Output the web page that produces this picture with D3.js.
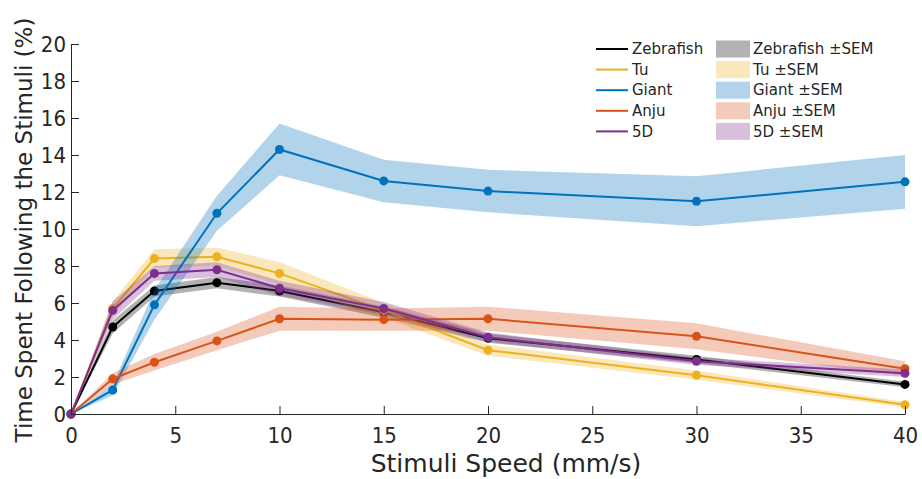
<!DOCTYPE html>
<html>
<head>
<meta charset="utf-8">
<script src="https://cdn.jsdelivr.net/npm/d3@7"></script>
<style>
  body { margin: 0; background: #fff; }
  text { font-family: "DejaVu Sans", sans-serif; fill: #262626; }
</style>
</head>
<body>
<svg></svg>
<script>
var width = 922;
var height = 479;

// speeds (mm/s)
var speeds = [0, 2, 4, 7, 10, 15, 20, 30, 40];

var names = ['Zebrafish', 'Tu', 'Giant', 'Anju', '5D'];
var colors = ['#000000', '#EDB120', '#0072BD', '#D95319', '#7E2F8E'];

// mean % time following
var zebrafish = [0, 4.7, 6.65, 7.1, 6.65, 5.5, 4.1, 2.95, 1.6];
var tu        = [0, 5.7, 8.4, 8.5, 7.6, 5.6, 3.45, 2.1, 0.5];
var giant     = [0, 1.3, 5.9, 10.85, 14.3, 12.6, 12.05, 11.5, 12.55];
var anju      = [0, 1.9, 2.8, 3.95, 5.15, 5.1, 5.15, 4.2, 2.45];
var fiveD     = [0, 5.6, 7.6, 7.8, 6.8, 5.7, 4.15, 2.85, 2.2];

// SEM
var zebrafishSem = [0, 0.35, 0.3, 0.3, 0.3, 0.3, 0.25, 0.2, 0.15];
var tuSem        = [0, 0.4, 0.5, 0.5, 0.6, 0.4, 0.3, 0.25, 0.15];
var giantSem     = [0, 0.3, 0.8, 0.95, 1.4, 1.15, 1.15, 1.35, 1.45];
var anjuSem      = [0, 0.3, 0.45, 0.5, 0.65, 0.6, 0.65, 0.7, 0.4];
var fiveDSem     = [0, 0.5, 0.4, 0.4, 0.4, 0.35, 0.25, 0.2, 0.2];

var xTicks = [0, 5, 10, 15, 20, 25, 30, 35, 40];
var yTicks = [0, 2, 4, 6, 8, 10, 12, 14, 16, 18, 20];

var means = [zebrafish, tu, giant, anju, fiveD];
var sems = [zebrafishSem, tuSem, giantSem, anjuSem, fiveDSem];

var series = names.map((n, i) => ({
  name: n,
  color: colors[i],
  points: speeds.map((s, j) => ({ x: s, y: means[i][j], e: sems[i][j] }))
}));

var plotLeft = 71, plotRight = 905, plotTop = 44, plotBottom = 414;

var xScale = d3.scaleLinear().domain([0, 40]).range([plotLeft, plotRight]);
var yScale = d3.scaleLinear().domain([0, 20]).range([plotBottom, plotTop]);

var svg = d3.select('svg')
  .attr('width', width)
  .attr('height', height);

var area = d3.area()
  .x(d => xScale(d.x))
  .y0(d => yScale(d.y - d.e))
  .y1(d => yScale(d.y + d.e));

var line = d3.line()
  .x(d => xScale(d.x))
  .y(d => yScale(d.y));

series.forEach(s => {
  var g = svg.append('g');
  g.append('path')
    .attr('d', area(s.points))
    .attr('fill', s.color)
    .attr('fill-opacity', 0.3);
  g.append('path')
    .attr('d', line(s.points))
    .attr('fill', 'none')
    .attr('stroke', s.color)
    .attr('stroke-width', 2);
  g.selectAll('circle')
    .data(s.points)
    .enter()
    .append('circle')
      .attr('cx', d => xScale(d.x))
      .attr('cy', d => yScale(d.y))
      .attr('r', 4.5)
      .attr('fill', s.color);
});

//axes
var xAxis = d3.axisBottom(xScale)
  .tickValues(xTicks)
  .tickSize(-8)
  .tickSizeOuter(0)
  .tickPadding(9);

var yAxis = d3.axisLeft(yScale)
  .tickValues(yTicks)
  .tickSize(-8)
  .tickSizeOuter(0)
  .tickPadding(5);

var gx = svg.append('g')
  .attr('transform', `translate(0, ${plotBottom})`)
  .call(xAxis);

var gy = svg.append('g')
  .attr('transform', `translate(${plotLeft}, 0)`)
  .call(yAxis);

[gx, gy].forEach(g => {
  g.select('.domain').attr('stroke', '#262626');
  g.selectAll('.tick line').attr('stroke', '#262626');
  g.selectAll('.tick text')
    .attr('fill', '#262626')
    .style('font-size', '22px')
    .style('font-stretch', 'condensed')
    .style('font-family', '"DejaVu Sans Condensed", "DejaVu Sans", sans-serif');
});
gx.selectAll('.tick text').attr('dy', '0.9em');

//x-axis label
svg.append('text')
  .attr('x', 506)
  .attr('y', 472)
  .style('text-anchor', 'middle')
  .style('font-size', '25px')
  .text('Stimuli Speed (mm/s)');

//y-axis label
svg.append('text')
  .attr('transform', 'rotate(-90)')
  .attr('x', -230)
  .attr('y', 32)
  .style('text-anchor', 'middle')
  .style('font-size', '23px')
  .text('Time Spent Following the Stimuli (%)');

//legend
var legend = svg.append('g');
var rowY = d => 49 + d * 20.6;

names.forEach((n, i) => {
  legend.append('line')
    .attr('x1', 596).attr('x2', 628)
    .attr('y1', rowY(i)).attr('y2', rowY(i))
    .attr('stroke', colors[i])
    .attr('stroke-width', 2);
  legend.append('text')
    .attr('x', 632)
    .attr('y', rowY(i))
    .attr('dy', '0.35em')
    .style('font-size', '15px')
    .text(n);
  legend.append('rect')
    .attr('x', 716).attr('y', rowY(i) - 8.5)
    .attr('width', 34).attr('height', 17)
    .attr('fill', colors[i])
    .attr('fill-opacity', 0.3);
  legend.append('text')
    .attr('x', 753)
    .attr('y', rowY(i))
    .attr('dy', '0.35em')
    .style('font-size', '15px')
    .text(n + ' \u00b1SEM');
});
</script>
</body>
</html>
